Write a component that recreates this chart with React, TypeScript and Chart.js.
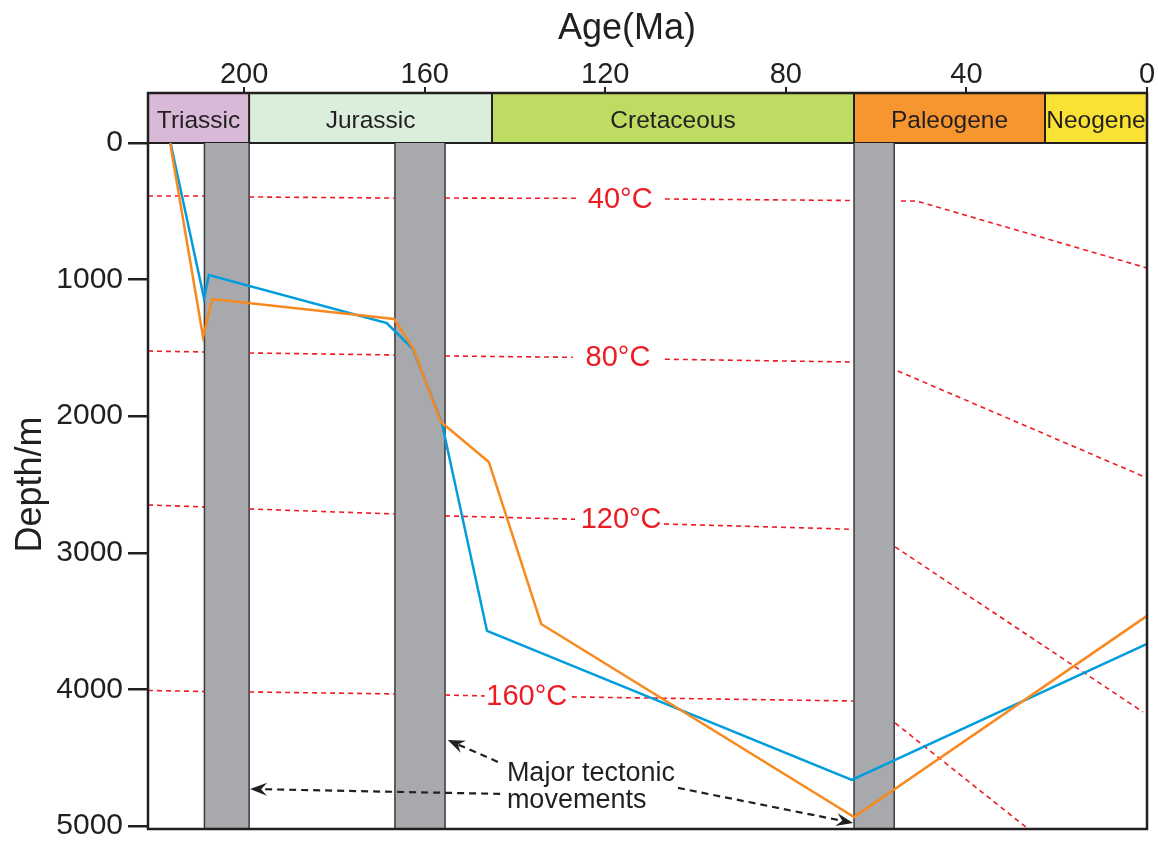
import { useEffect, useRef } from "react";
import { Chart, registerables } from "chart.js";
Chart.register(...registerables);

// Axis ranges and ticks
const xTicks = [200, 160, 120, 80, 40, 0];
const yTicks = [0, 1000, 2000, 3000, 4000, 5000];
const AGE_MIN = 0;
const AGE_MAX = 221.3;
const DEPTH_TOP = -366; // space for the stratigraphic bar
const DEPTH_BOTTOM = 5022;

// Geological periods
const periodNames = ["Triassic", "Jurassic", "Cretaceous", "Paleogene", "Neogene"];
const periodOlder = [221.3, 198.9, 145.1, 64.9, 22.6];
const periodYounger = [198.9, 145.1, 64.9, 22.6, 0];
const periodColors = ["#d8b9d8", "#dbeedc", "#bedb62", "#f7952f", "#f9e234"];

// Major tectonic movements (grey bands)
const tectonicOlder = [208.8, 166.6, 64.9];
const tectonicYounger = [198.9, 155.5, 56.0];

// Burial history curves
const blueAge = [216.3, 208.9, 207.8, 168.4, 162.6, 156.2, 146.2, 65.4, 0];
const blueDepth = [0, 1135, 966, 1318, 1508, 2050, 3572, 4663, 3667];
const orangeAge = [216.4, 209.1, 207.1, 166.8, 162.6, 156.4, 145.8, 134.2, 64.9, 0];
const orangeDepth = [0, 1420, 1142, 1288, 1501, 2042, 2335, 3521, 4934, 3462];

// Isotherms (null = gap)
const iso40Age = [221.3, 208.9, null, 198.9, 166.6, null, 155.5, 126.5, null, 106.8, 64.9, null, 54.5, 51.0, 0];
const iso40Depth = [388, 388, null, 395, 403, null, 403, 405, null, 410, 421, null, 425, 425, 915];
const iso80Age = [221.3, 208.9, null, 198.9, 166.6, null, 155.5, 127.2, null, 106.8, 65.8, null, 55.2, 0];
const iso80Depth = [1523, 1530, null, 1537, 1552, null, 1559, 1569, null, 1583, 1603, null, 1669, 2452];
const iso120Age = [221.3, 208.9, null, 198.9, 166.6, null, 155.5, 126.7, null, 107.0, 65.1, null, 55.8, 0.9];
const iso120Depth = [2650, 2664, null, 2679, 2716, null, 2730, 2754, null, 2789, 2828, null, 2957, 4165];
const iso160Age = [221.3, 208.9, null, 198.9, 166.6, null, 155.5, 146.7, null, 127.4, 65.1, null, 55.8, 26.6];
const iso160Depth = [4008, 4015, null, 4019, 4033, null, 4041, 4048, null, 4055, 4085, null, 4246, 5014];

const isoLabels = ["40°C", "80°C", "120°C", "160°C"];
const isoLabelAge = [116.7, 117.2, 116.5, 137.4];
const isoLabelDepth = [410, 1566, 2752, 4048];

// Annotation
const noteLines = ["Major tectonic", "movements"];
const noteAge = 141.8;
const noteDepth = [4619, 4817];
const arrowFromAge = [143.3, 143.8, 103.9];
const arrowFromDepth = [4765, 4531, 4721];
const arrowToAge = [198.7, 154.9, 65.1];
const arrowToDepth = [4729, 4370, 4978];

const FONT = "'Liberation Sans', Arial, Helvetica, sans-serif";
const INK = "#231f20";
const RED = "#ed1c24";

function toPoints(ages: (number | null)[], depths: (number | null)[]) {
  let last = 0;
  return ages.map((a, i) => {
    const d = depths[i];
    if (a === null || d === null) return { x: last, y: null as any };
    last = a;
    return { x: a, y: d };
  });
}

const decorPlugin = {
  id: "decor",
  beforeDatasetsDraw(chart: any) {
    const { ctx, chartArea, scales } = chart;
    const xs = scales.x;
    const ys = scales.y;
    const y0 = ys.getPixelForValue(0);
    ctx.save();
    // period bar
    for (let i = 0; i < periodNames.length; i++) {
      const xa = xs.getPixelForValue(periodOlder[i]);
      const xb = xs.getPixelForValue(periodYounger[i]);
      ctx.fillStyle = periodColors[i];
      ctx.fillRect(xa, chartArea.top, xb - xa, y0 - chartArea.top);
      ctx.fillStyle = INK;
      ctx.font = `24.5px ${FONT}`;
      ctx.textAlign = "center";
      ctx.textBaseline = "middle";
      ctx.fillText(periodNames[i], (xa + xb) / 2, (chartArea.top + y0) / 2 + 3);
    }
    ctx.strokeStyle = INK;
    ctx.lineWidth = 2;
    for (let i = 1; i < periodNames.length; i++) {
      const xa = xs.getPixelForValue(periodOlder[i]);
      ctx.beginPath();
      ctx.moveTo(xa, chartArea.top);
      ctx.lineTo(xa, y0);
      ctx.stroke();
    }
    ctx.beginPath();
    ctx.moveTo(chartArea.left, y0);
    ctx.lineTo(chartArea.right, y0);
    ctx.stroke();
    // grey tectonic bands
    for (let i = 0; i < tectonicOlder.length; i++) {
      const xa = xs.getPixelForValue(tectonicOlder[i]);
      const xb = xs.getPixelForValue(tectonicYounger[i]);
      ctx.fillStyle = "#a7a9ac";
      ctx.fillRect(xa, y0, xb - xa, chartArea.bottom - y0);
      ctx.strokeStyle = "#3a3a3c";
      ctx.lineWidth = 1.5;
      ctx.beginPath();
      ctx.moveTo(xa, y0);
      ctx.lineTo(xa, chartArea.bottom);
      ctx.moveTo(xb, y0);
      ctx.lineTo(xb, chartArea.bottom);
      ctx.stroke();
    }
    ctx.restore();
  },
  afterDatasetsDraw(chart: any) {
    const { ctx, chartArea, scales } = chart;
    const xs = scales.x;
    const ys = scales.y;
    ctx.save();
    // isotherm labels
    ctx.fillStyle = RED;
    ctx.font = `29px ${FONT}`;
    ctx.textAlign = "center";
    ctx.textBaseline = "middle";
    for (let i = 0; i < isoLabels.length; i++) {
      ctx.fillText(isoLabels[i], xs.getPixelForValue(isoLabelAge[i]), ys.getPixelForValue(isoLabelDepth[i]) + 1);
    }
    // annotation text
    ctx.fillStyle = INK;
    ctx.font = `27px ${FONT}`;
    ctx.textAlign = "left";
    for (let i = 0; i < noteLines.length; i++) {
      ctx.fillText(noteLines[i], xs.getPixelForValue(noteAge), ys.getPixelForValue(noteDepth[i]));
    }
    // arrows
    for (let i = 0; i < arrowFromAge.length; i++) {
      const x1 = xs.getPixelForValue(arrowFromAge[i]);
      const y1 = ys.getPixelForValue(arrowFromDepth[i]);
      const x2 = xs.getPixelForValue(arrowToAge[i]);
      const y2 = ys.getPixelForValue(arrowToDepth[i]);
      const ang = Math.atan2(y2 - y1, x2 - x1);
      const head = 17;
      const half = 6.5;
      const hx = x2 - head * Math.cos(ang);
      const hy = y2 - head * Math.sin(ang);
      ctx.strokeStyle = INK;
      ctx.lineWidth = 2.2;
      ctx.setLineDash([7, 5]);
      ctx.beginPath();
      ctx.moveTo(x1, y1);
      ctx.lineTo(x2 - 0.6 * head * Math.cos(ang), y2 - 0.6 * head * Math.sin(ang));
      ctx.stroke();
      ctx.setLineDash([]);
      ctx.fillStyle = INK;
      ctx.beginPath();
      ctx.moveTo(x2, y2);
      ctx.lineTo(hx + half * Math.sin(ang), hy - half * Math.cos(ang));
      ctx.lineTo(x2 - 0.65 * head * Math.cos(ang), y2 - 0.65 * head * Math.sin(ang));
      ctx.lineTo(hx - half * Math.sin(ang), hy + half * Math.cos(ang));
      ctx.closePath();
      ctx.fill();
    }
    // frame
    ctx.strokeStyle = INK;
    ctx.lineWidth = 2.5;
    ctx.strokeRect(chartArea.left, chartArea.top, chartArea.right - chartArea.left, chartArea.bottom - chartArea.top);
    // axis titles
    ctx.fillStyle = INK;
    ctx.font = `36px ${FONT}`;
    ctx.textAlign = "center";
    ctx.textBaseline = "middle";
    ctx.fillText("Age(Ma)", 627, 29);
    ctx.translate(31, (ys.getPixelForValue(0) + ys.getPixelForValue(5000)) / 2);
    ctx.rotate(-Math.PI / 2);
    ctx.fillText("Depth/m", 0, 0);
    ctx.restore();
  },
};

export default function App() {
  const ref = useRef<HTMLCanvasElement>(null);
  useEffect(() => {
    if (!ref.current) return;
    const isoSets = [
      [iso40Age, iso40Depth],
      [iso80Age, iso80Depth],
      [iso120Age, iso120Depth],
      [iso160Age, iso160Depth],
    ].map(([a, d]) => ({
      data: toPoints(a as any, d as any),
      borderColor: RED,
      borderWidth: 1.6,
      borderDash: [5, 4],
      pointRadius: 0,
      spanGaps: false,
      fill: false,
      order: 3,
    }));
    const chart = new Chart(ref.current, {
      type: "line",
      data: {
        datasets: [
          ...isoSets,
          {
            data: toPoints(blueAge, blueDepth),
            borderColor: "#009ddc",
            borderWidth: 2.5,
            pointRadius: 0,
            fill: false,
            order: 2,
          },
          {
            data: toPoints(orangeAge, orangeDepth),
            borderColor: "#f7891f",
            borderWidth: 2.5,
            pointRadius: 0,
            fill: false,
            order: 1,
          },
        ] as any,
      },
      options: {
        responsive: false,
        animation: false,
        layout: { padding: { left: 0, top: 0, right: 11, bottom: 17 } },
        plugins: { legend: { display: false }, tooltip: { enabled: false } },
        elements: { line: { tension: 0 } },
        scales: {
          x: {
            type: "linear",
            position: "top",
            reverse: true,
            min: AGE_MIN,
            max: AGE_MAX,
            afterBuildTicks: (s: any) => {
              s.ticks = xTicks.map((v) => ({ value: v }));
            },
            afterFit: (s: any) => {
              s.height = 93;
            },
            border: { display: false },
            grid: { drawOnChartArea: false, drawTicks: true, tickLength: 6, color: INK, lineWidth: 2 },
            ticks: { color: INK, font: { family: FONT, size: 29 }, padding: -5, maxRotation: 0, callback: (v: any) => String(v) },
          },
          y: {
            type: "linear",
            reverse: true,
            min: DEPTH_TOP,
            max: DEPTH_BOTTOM,
            afterBuildTicks: (s: any) => {
              s.ticks = yTicks.map((v) => ({ value: v }));
            },
            afterFit: (s: any) => {
              s.width = 148;
              s.paddingTop = 0;
              s.paddingBottom = 0;
            },
            border: { display: false },
            grid: { drawOnChartArea: false, drawTicks: true, tickLength: 20, color: INK, lineWidth: 2.5 },
            ticks: { color: INK, font: { family: FONT, size: 30 }, padding: 5, callback: (v: any) => String(v) },
          },
        },
      },
      plugins: [decorPlugin],
    } as any);
    return () => chart.destroy();
  }, []);
  return (
    <canvas
      ref={ref}
      width={1158}
      height={846}
      style={{ position: "fixed", left: 0, top: 0, display: "block", background: "#fff" }}
    />
  );
}
